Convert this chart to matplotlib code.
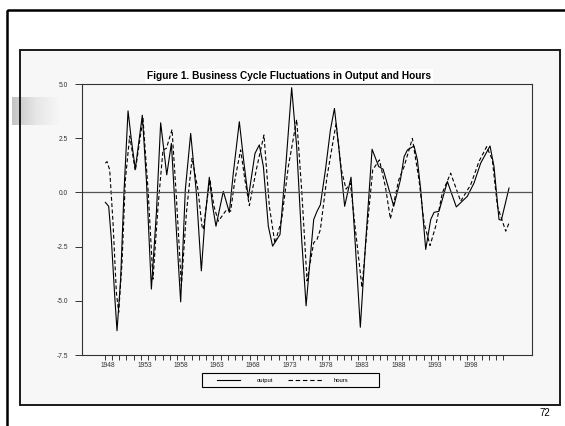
import matplotlib
matplotlib.use("Agg")
import matplotlib.pyplot as plt
import numpy as np
from matplotlib.patches import Rectangle
from matplotlib.lines import Line2D
from matplotlib.colors import LinearSegmentedColormap

plt.rcParams["font.family"] = ["Liberation Sans", "DejaVu Sans"]

TITLE = "Figure 1. Business Cycle Fluctuations in Output and Hours"

# output (solid): turning points, (year, % deviation)
out_t = [1948.09, 1948.55, 1948.92, 1949.38, 1949.70, 1950.20, 1950.66, 1951.22,
         1951.68, 1952.22, 1953.19, 1953.75, 1954.44, 1955.13, 1955.72, 1956.56,
         1957.20, 1957.88, 1958.48, 1959.12, 1959.86, 1960.64, 1961.33, 1961.83,
         1962.43, 1962.89, 1963.35, 1964.36, 1965.19, 1965.74, 1966.57, 1967.21,
         1967.81, 1968.73, 1969.33, 1969.89, 1970.57, 1971.16, 1972.18, 1973.01,
         1973.79, 1974.48, 1975.17, 1975.78, 1976.37, 1976.83, 1977.29, 1977.75,
         1978.45, 1979.13, 1979.69, 1980.28, 1981.10, 1981.98, 1982.58, 1983.26,
         1983.96, 1984.88, 1985.80, 1986.40, 1987.87, 1988.79, 1989.30, 1989.76,
         1990.67, 1991.13, 1991.59, 1992.28, 1992.97, 1993.43, 1994.11, 1995.27,
         1996.50, 1998.02, 1998.94, 1999.86, 2001.15, 2001.70, 2002.39, 2002.71,
         2003.77]
out_v = [-0.46, -0.64, -2.17, -4.77, -6.38, -4.00, 0.00, 3.76,
         2.42, 1.07, 3.56, 0.58, -4.46, -0.95, 3.21, 0.81,
         2.26, -1.71, -5.05, 0.12, 2.72, 0.00, -3.62, -1.25,
         0.70, -0.64, -1.56, 0.05, -0.92, 0.89, 3.26, 1.35,
         -0.26, 1.80, 2.19, 1.19, -1.56, -2.48, -1.94, 1.35,
         4.83, 2.11, -2.17, -5.23, -2.94, -1.25, -0.87, -0.57,
         1.04, 2.87, 3.87, 2.11, -0.64, 0.70, -2.48, -6.22,
         -2.48, 1.99, 1.19, 1.07, -0.64, 0.58, 1.65, 1.96,
         2.14, 1.50, 0.12, -2.63, -1.25, -0.92, -0.87, 0.50,
         -0.67, -0.18, 0.43, 1.35, 2.14, 1.19, -1.25, -1.28,
         0.20]

# hours (dashed)
hrs_t = [1948.09, 1948.32, 1948.69, 1949.15, 1949.61, 1949.93, 1950.39, 1950.85,
         1951.45, 1952.22, 1953.28, 1953.98, 1954.66, 1955.36, 1956.04, 1956.51,
         1957.29, 1957.88, 1958.58, 1959.27, 1960.05, 1960.87, 1961.42, 1961.60,
         1962.06, 1962.52, 1963.07, 1963.67, 1964.81, 1965.37, 1965.96, 1966.75,
         1967.34, 1967.95, 1968.96, 1969.97, 1970.71, 1971.48, 1972.41, 1973.33,
         1974.48, 1975.17, 1975.91, 1976.83, 1977.29, 1977.75, 1978.67, 1979.92,
         1980.65, 1981.29, 1981.89, 1982.58, 1983.49, 1984.18, 1984.97, 1985.89,
         1986.71, 1987.41, 1988.56, 1989.30, 1990.44, 1991.35, 1992.05, 1992.88,
         1993.66, 1994.57, 1995.72, 1997.10, 1998.48, 1999.62, 2000.69, 2001.47,
         2002.17, 2003.32, 2003.77]
hrs_v = [1.35, 1.42, 1.04, -1.41, -4.62, -5.53, -3.24, 0.58,
         2.60, 1.00, 3.41, 0.12, -4.00, -0.64, 1.96, 2.03,
         2.90, -0.18, -4.31, -0.95, 1.57, 0.12, -1.56, -1.71,
         -0.49, 0.58, -0.64, -1.33, -0.80, -0.87, 0.58, 1.96,
         0.58, -0.61, 1.12, 2.65, -0.64, -2.35, -1.25, 1.19,
         3.36, 0.12, -4.08, -2.32, -2.17, -1.71, 0.73, 3.18,
         1.04, 0.15, 0.43, -1.71, -4.39, -1.71, 1.04, 1.50,
         0.28, -1.22, 0.58, 1.19, 2.49, 0.58, -1.41, -2.45,
         -1.56, -0.03, 0.89, -0.41, 0.35, 1.42, 2.11, 1.50,
         -0.64, -1.79, -1.41]

y_ticks = [-7.5, -5.0, -2.5, 0.0, 2.5, 5.0]
year_labels = list(range(1948, 2003, 5))
year_ticks = list(range(1948, 2004))

W, H = 565, 426
fig = plt.figure(figsize=(W / 100, H / 100), dpi=100)
fig.patch.set_facecolor("white")

# slide decoration, drawn in pixel coordinates
bg = fig.add_axes([0, 0, 1, 1], zorder=-1)
bg.set_xlim(0, W); bg.set_ylim(H, 0); bg.axis("off")
bg.add_patch(Rectangle((7, 10), 700, 600, fill=False, ec="black", lw=1.8))
bg.add_patch(Rectangle((20, 50), 540, 355, fc="#f7f7f7", ec="none", zorder=1))
cm = LinearSegmentedColormap.from_list("g", ["#c4c4c4", "#e6e6e6", "#f7f7f7"])
bg.imshow(np.linspace(0, 1, 64)[None, :], cmap=cm, extent=(12, 60, 125, 97),
          aspect="auto", zorder=2)
bg.add_patch(Rectangle((20, 50), 540, 355, fill=False, ec="#1a1a1a", lw=1.4, zorder=3))
bg.text(289, 76, TITLE, ha="center", va="center", fontsize=7.3, weight="bold",
        bbox=dict(fc="white", ec="none", pad=1.2), zorder=4)

# legend box
bg.add_patch(Rectangle((202, 373), 177, 14, fill=False, ec="black", lw=0.8, zorder=4))
bg.add_line(Line2D([217, 240], [380, 380], color="black", lw=0.8, zorder=4))
bg.add_line(Line2D([288, 322], [380, 380], color="black", lw=0.8,
                   ls=(0, (4, 2.5)), zorder=4))
bg.text(265, 380.5, "output", ha="center", va="center", fontsize=4.2, zorder=4)
bg.text(341, 380.5, "hours", ha="center", va="center", fontsize=4.2, zorder=4)
bg.text(550, 413, "72", ha="right", va="center", fontsize=7)

ax = fig.add_axes([82 / W, 1 - 355 / H, 450 / W, 271 / H])
ax.set_facecolor("none")
ax.plot(out_t, out_v, color="black", lw=0.8)
ax.plot(hrs_t, hrs_v, color="black", lw=0.8, ls=(0, (3.5, 2.2)))
ax.axhline(0, color="#555555", lw=0.9)
ax.set_xlim(1944.87, 2006.94)
ax.set_ylim(-7.5, 5.0)
for s in ax.spines.values():
    s.set_color("#333333"); s.set_linewidth(0.8)

ax.set_yticks(y_ticks)
ax.set_yticklabels([f"{v:.1f}" for v in y_ticks])
ax.tick_params(axis="y", direction="out", length=5, width=0.7, pad=5,
               labelsize=4.8, colors="#333333")
ax.set_xticks([y + 0.5 for y in year_labels])
ax.set_xticklabels([str(y) for y in year_labels])
ax.set_xticks(year_ticks, minor=True)
ax.tick_params(axis="x", which="major", length=0, pad=5, labelsize=4.8, colors="#333333")
ax.tick_params(axis="x", which="minor", direction="out", length=3.5, width=0.7,
               color="#333333")

fig.savefig("out.png", dpi=100, facecolor="white")
